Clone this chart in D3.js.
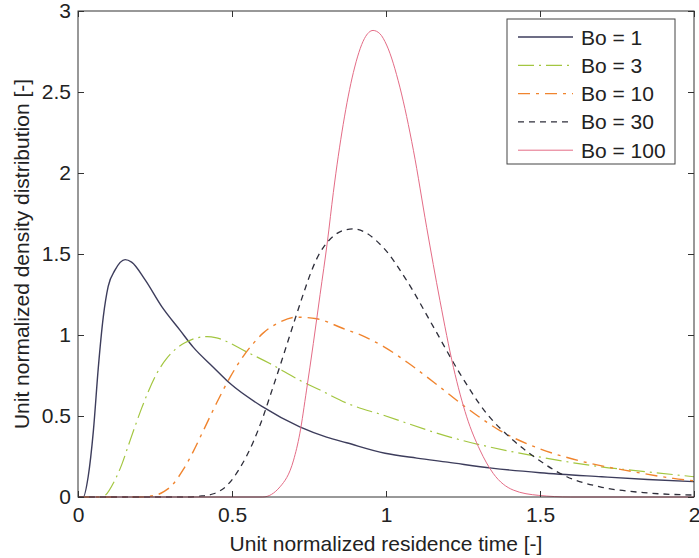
<!DOCTYPE html>
<html>
<head>
<meta charset="utf-8">
<script src="https://cdn.jsdelivr.net/npm/d3@7"></script>
<style>
  body { margin: 0; background: #fff; }
  svg text { font-family: "Liberation Sans", Arial, sans-serif; fill: #222; }
  .axis path { display: none; }
  .axis line { stroke: #333; }
</style>
</head>
<body>
<div id="chart"></div>
<script>
// values
const seriesNames = ["Bo = 1", "Bo = 3", "Bo = 10", "Bo = 30", "Bo = 100"];

const tBo1 = [0, 0.017, 0.033, 0.05, 0.066, 0.082, 0.098, 0.12, 0.153, 0.174, 0.218, 0.272, 0.331, 0.374, 0.44, 0.494, 0.60, 0.72, 0.807, 0.872, 0.997, 1.1, 1.2, 1.343, 1.5, 1.7, 1.85, 2.0];
const yBo1 = [0, 0, 0.125, 0.41, 0.80, 1.11, 1.30, 1.40, 1.465, 1.45, 1.34, 1.175, 1.03, 0.925, 0.80, 0.70, 0.556, 0.433, 0.37, 0.335, 0.27, 0.24, 0.215, 0.178, 0.15, 0.125, 0.108, 0.095];

const tBo3 = [0, 0.077, 0.12, 0.142, 0.163, 0.185, 0.207, 0.228, 0.255, 0.288, 0.315, 0.347, 0.385, 0.42, 0.45, 0.548, 0.623, 0.72, 0.786, 0.872, 0.991, 1.208, 1.496, 1.695, 1.85, 2.0];
const yBo3 = [0, 0, 0.105, 0.20, 0.315, 0.435, 0.55, 0.65, 0.76, 0.855, 0.91, 0.952, 0.982, 0.99, 0.982, 0.895, 0.824, 0.72, 0.66, 0.58, 0.505, 0.37, 0.248, 0.187, 0.155, 0.125];

const tBo10 = [0, 0.2, 0.25, 0.28, 0.304, 0.342, 0.374, 0.407, 0.45, 0.494, 0.537, 0.57, 0.60, 0.656, 0.71, 0.775, 0.861, 0.93, 0.991, 1.07, 1.154, 1.262, 1.37, 1.496, 1.64, 1.803, 1.933, 2.0];
const yBo10 = [0, 0, 0.01, 0.035, 0.07, 0.17, 0.28, 0.41, 0.58, 0.74, 0.87, 0.95, 1.01, 1.08, 1.11, 1.10, 1.04, 0.99, 0.93, 0.83, 0.71, 0.55, 0.41, 0.30, 0.218, 0.156, 0.115, 0.10];

const tBo30 = [0, 0.35, 0.396, 0.44, 0.483, 0.526, 0.569, 0.60, 0.623, 0.656, 0.678, 0.705, 0.731, 0.755, 0.775, 0.8, 0.829, 0.86, 0.894, 0.991, 1.067, 1.154, 1.24, 1.327, 1.413, 1.496, 1.587, 1.695, 1.85, 2.0];
const yBo30 = [0, 0, 0.005, 0.02, 0.07, 0.18, 0.34, 0.49, 0.62, 0.81, 0.94, 1.10, 1.25, 1.38, 1.47, 1.55, 1.61, 1.645, 1.655, 1.54, 1.337, 1.05, 0.762, 0.515, 0.35, 0.228, 0.125, 0.063, 0.025, 0.012];

const tBo100 = [0, 0.60, 0.656, 0.70, 0.72, 0.742, 0.764, 0.786, 0.81, 0.829, 0.861, 0.894, 0.93, 0.958, 0.98, 1.002, 1.045, 1.089, 1.132, 1.175, 1.219, 1.262, 1.305, 1.348, 1.413, 1.496, 1.6, 2.0];
const yBo100 = [0, 0, 0.063, 0.228, 0.39, 0.66, 0.947, 1.25, 1.58, 1.88, 2.3, 2.62, 2.83, 2.88, 2.86, 2.79, 2.53, 2.14, 1.665, 1.214, 0.80, 0.495, 0.29, 0.146, 0.043, 0.01, 0, 0];

const xTicks = [0, 0.5, 1, 1.5, 2];
const yTicks = [0, 0.5, 1, 1.5, 2, 2.5, 3];

const width = 699, height = 558;
const margin = { top: 11, right: 5, bottom: 61, left: 78 };

const svg = d3.select("#chart").append("svg")
  .attr("width", width)
  .attr("height", height);

const x = d3.scaleLinear().domain([0, 2]).range([margin.left, width - margin.right]);
const y = d3.scaleLinear().domain([0, 3]).range([height - margin.bottom, margin.top]);

const series = [
  { name: seriesNames[0], t: tBo1, v: yBo1, color: "#3d3d5c", width: 1.4, dash: null },
  { name: seriesNames[1], t: tBo3, v: yBo3, color: "#a3c640", width: 1.2, dash: "16,5,2,5" },
  { name: seriesNames[2], t: tBo10, v: yBo10, color: "#f0842e", width: 1.4, dash: "12,6,3,6" },
  { name: seriesNames[3], t: tBo30, v: yBo30, color: "#2e2e3a", width: 1.3, dash: "6,5" },
  { name: seriesNames[4], t: tBo100, v: yBo100, color: "#e46c86", width: 1, dash: null }
];

const line = d3.line()
  .x(d => x(d[0]))
  .y(d => y(d[1]))
  .curve(d3.curveMonotoneX);

// curves
svg.append("g")
  .selectAll("path")
  .data(series)
  .join("path")
  .attr("fill", "none")
  .attr("stroke", d => d.color)
  .attr("stroke-width", d => d.width)
  .attr("stroke-dasharray", d => d.dash)
  .attr("d", d => line(d.t.map((t, i) => [t, d.v[i]])));

// axes, ticks pointing inward like matlab
const fmt = d3.format("~g");
const bottom = svg.append("g")
  .attr("class", "axis")
  .attr("transform", `translate(0,${y(0)})`)
  .call(d3.axisBottom(x).tickValues(xTicks).tickFormat(fmt).tickSizeInner(-6).tickSizeOuter(0).tickPadding(10));
bottom.selectAll("text").style("font-size", "21px");

const left = svg.append("g")
  .attr("class", "axis")
  .attr("transform", `translate(${x(0)},0)`)
  .call(d3.axisLeft(y).tickValues(yTicks).tickFormat(fmt).tickSizeInner(-6).tickSizeOuter(0).tickPadding(7));
left.selectAll("text").style("font-size", "21px");

svg.append("g")
  .attr("class", "axis")
  .attr("transform", `translate(0,${y(3)})`)
  .call(d3.axisTop(x).tickValues(xTicks).tickFormat("").tickSizeInner(-6).tickSizeOuter(0));

svg.append("g")
  .attr("class", "axis")
  .attr("transform", `translate(${x(2)},0)`)
  .call(d3.axisRight(y).tickValues(yTicks).tickFormat("").tickSizeInner(-6).tickSizeOuter(0));

// box
svg.append("rect")
  .attr("x", x(0))
  .attr("y", y(3))
  .attr("width", x(2) - x(0))
  .attr("height", y(0) - y(3))
  .attr("fill", "none")
  .attr("stroke", "#333")
  .attr("stroke-width", 1);

// axis titles
svg.append("text")
  .attr("x", (x(0) + x(2)) / 2)
  .attr("y", 551)
  .attr("text-anchor", "middle")
  .style("font-size", "21px")
  .text("Unit normalized residence time [-]");

svg.append("text")
  .attr("transform", `translate(29,${(y(0) + y(3)) / 2}) rotate(-90)`)
  .attr("text-anchor", "middle")
  .style("font-size", "21px")
  .text("Unit normalized density distribution [-]");

// legend
const legend = svg.append("g").attr("transform", "translate(507,19)");
legend.append("rect")
  .attr("width", 168)
  .attr("height", 145)
  .attr("fill", "#fff")
  .attr("stroke", "#444")
  .attr("stroke-width", 1);

const rows = legend.selectAll("g.row")
  .data(series)
  .join("g")
  .attr("class", "row")
  .attr("transform", (d, i) => `translate(0,${18 + i * 28.3})`);

rows.append("line")
  .attr("x1", 11)
  .attr("x2", 66)
  .attr("stroke", d => d.color)
  .attr("stroke-width", d => d.width)
  .attr("stroke-dasharray", d => d.dash);

rows.append("text")
  .attr("x", 74)
  .attr("dy", "0.36em")
  .style("font-size", "21px")
  .text(d => d.name);
</script>
</body>
</html>
